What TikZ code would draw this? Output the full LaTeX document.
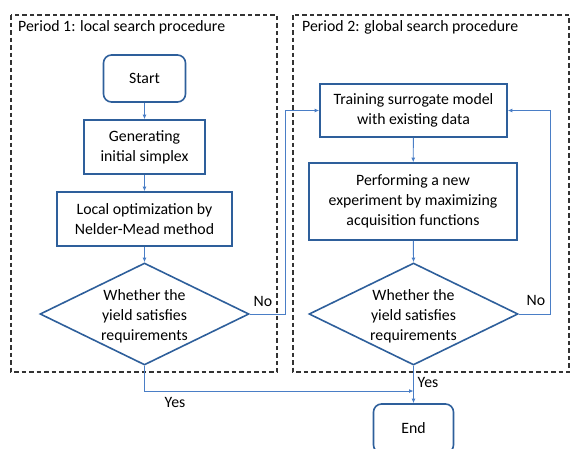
\documentclass[tikz,border=0pt]{standalone}
\usepackage{fontspec}
\setmainfont{Carlito}
\usetikzlibrary{shapes.geometric,arrows.meta}
\definecolor{boxblue}{HTML}{2E5F9B}
\definecolor{arrblue}{HTML}{4A7EC6}
\definecolor{dashgray}{HTML}{333333}
\tikzset{
  box/.style={draw=boxblue, line width=1.6pt, align=center, inner sep=0pt, font=\fontsize{15.8}{19.8}\selectfont},
  term/.style={box, rounded corners=8pt},
  dia/.style={draw=boxblue, line width=1.6pt, shape=diamond, inner sep=0pt},
  diatext/.style={align=center, font=\fontsize{15.8}{19.8}\selectfont},
  arr/.style={draw=arrblue, line width=0.9pt, -{Latex[length=4.5pt,width=4pt]}},
  period/.style={draw=dashgray, line width=1.1pt, dash pattern=on 4.5pt off 3pt},
  lbl/.style={font=\fontsize{15.8}{18}\selectfont, inner sep=0pt},
}
\begin{document}
\begin{tikzpicture}[x=1pt,y=-1pt]
\useasboundingbox (0,0) rectangle (570,448);
% period frames
\draw[period] (11,15) rectangle (277,372);
\draw[period] (293,15) rectangle (569,372);
\node[lbl, anchor=west] (p1) at (18,27) {Period 1: local search procedure};
\node[lbl, anchor=west] (p2) at (302,27) {Period 2: global search procedure};
% left column
\node[term, minimum width=82pt, minimum height=47pt] (start) at (144.5,78.5) {Start};
\node[box, minimum width=121pt, minimum height=54pt] (gen) at (144.5,147) {Generating\\initial simplex};
\node[box, minimum width=175pt, minimum height=54pt] (loc) at (144.5,219) {Local optimization by\\Nelder-Mead method};
\node[dia, minimum width=209pt, minimum height=102pt] (d1) at (144.5,314) {};
\node[diatext] (d1t) at (144.5,316) {Whether the\\yield satisfies\\requirements};
% right column
\node[box, minimum width=187pt, minimum height=53pt] (tr) at (413.5,110.5) {Training surrogate model\\with existing data};
\node[box, minimum width=208pt, minimum height=77pt] (pf) at (413,201.5) {Performing a new\\experiment by maximizing\\acquisition functions};
\node[dia, minimum width=209pt, minimum height=102pt] (d2) at (413.5,314) {};
\node[diatext] (d2t) at (413.5,316) {Whether the\\yield satisfies\\requirements};
\node[term, minimum width=80pt, minimum height=49pt] (end) at (413.5,428.5) {End};
\coordinate (join) at (413.5,391);
% connectors
\draw[arr] (start) -- (gen);
\draw[arr] (gen) -- (loc);
\draw[arr] (loc) -- (d1.north);
\draw[arr] (d1.east) -- ++(36,0) |- (tr.west);
\draw[arr] (tr) -- (pf);
\draw[arr] (pf) -- (d2.north);
\draw[arr] (d2.east) -- ++(32,0) |- (tr.east);
\draw[arr] (d1.south) |- (join);
\draw[arr] (d2.south) -- (end.north);
% labels
\node[lbl] (no1) at (263,301) {No};
\node[lbl] (no2) at (536,300) {No};
\node[lbl] (yes1) at (175,402) {Yes};
\node[lbl] (yes2) at (428,382) {Yes};
\end{tikzpicture}
\end{document}
